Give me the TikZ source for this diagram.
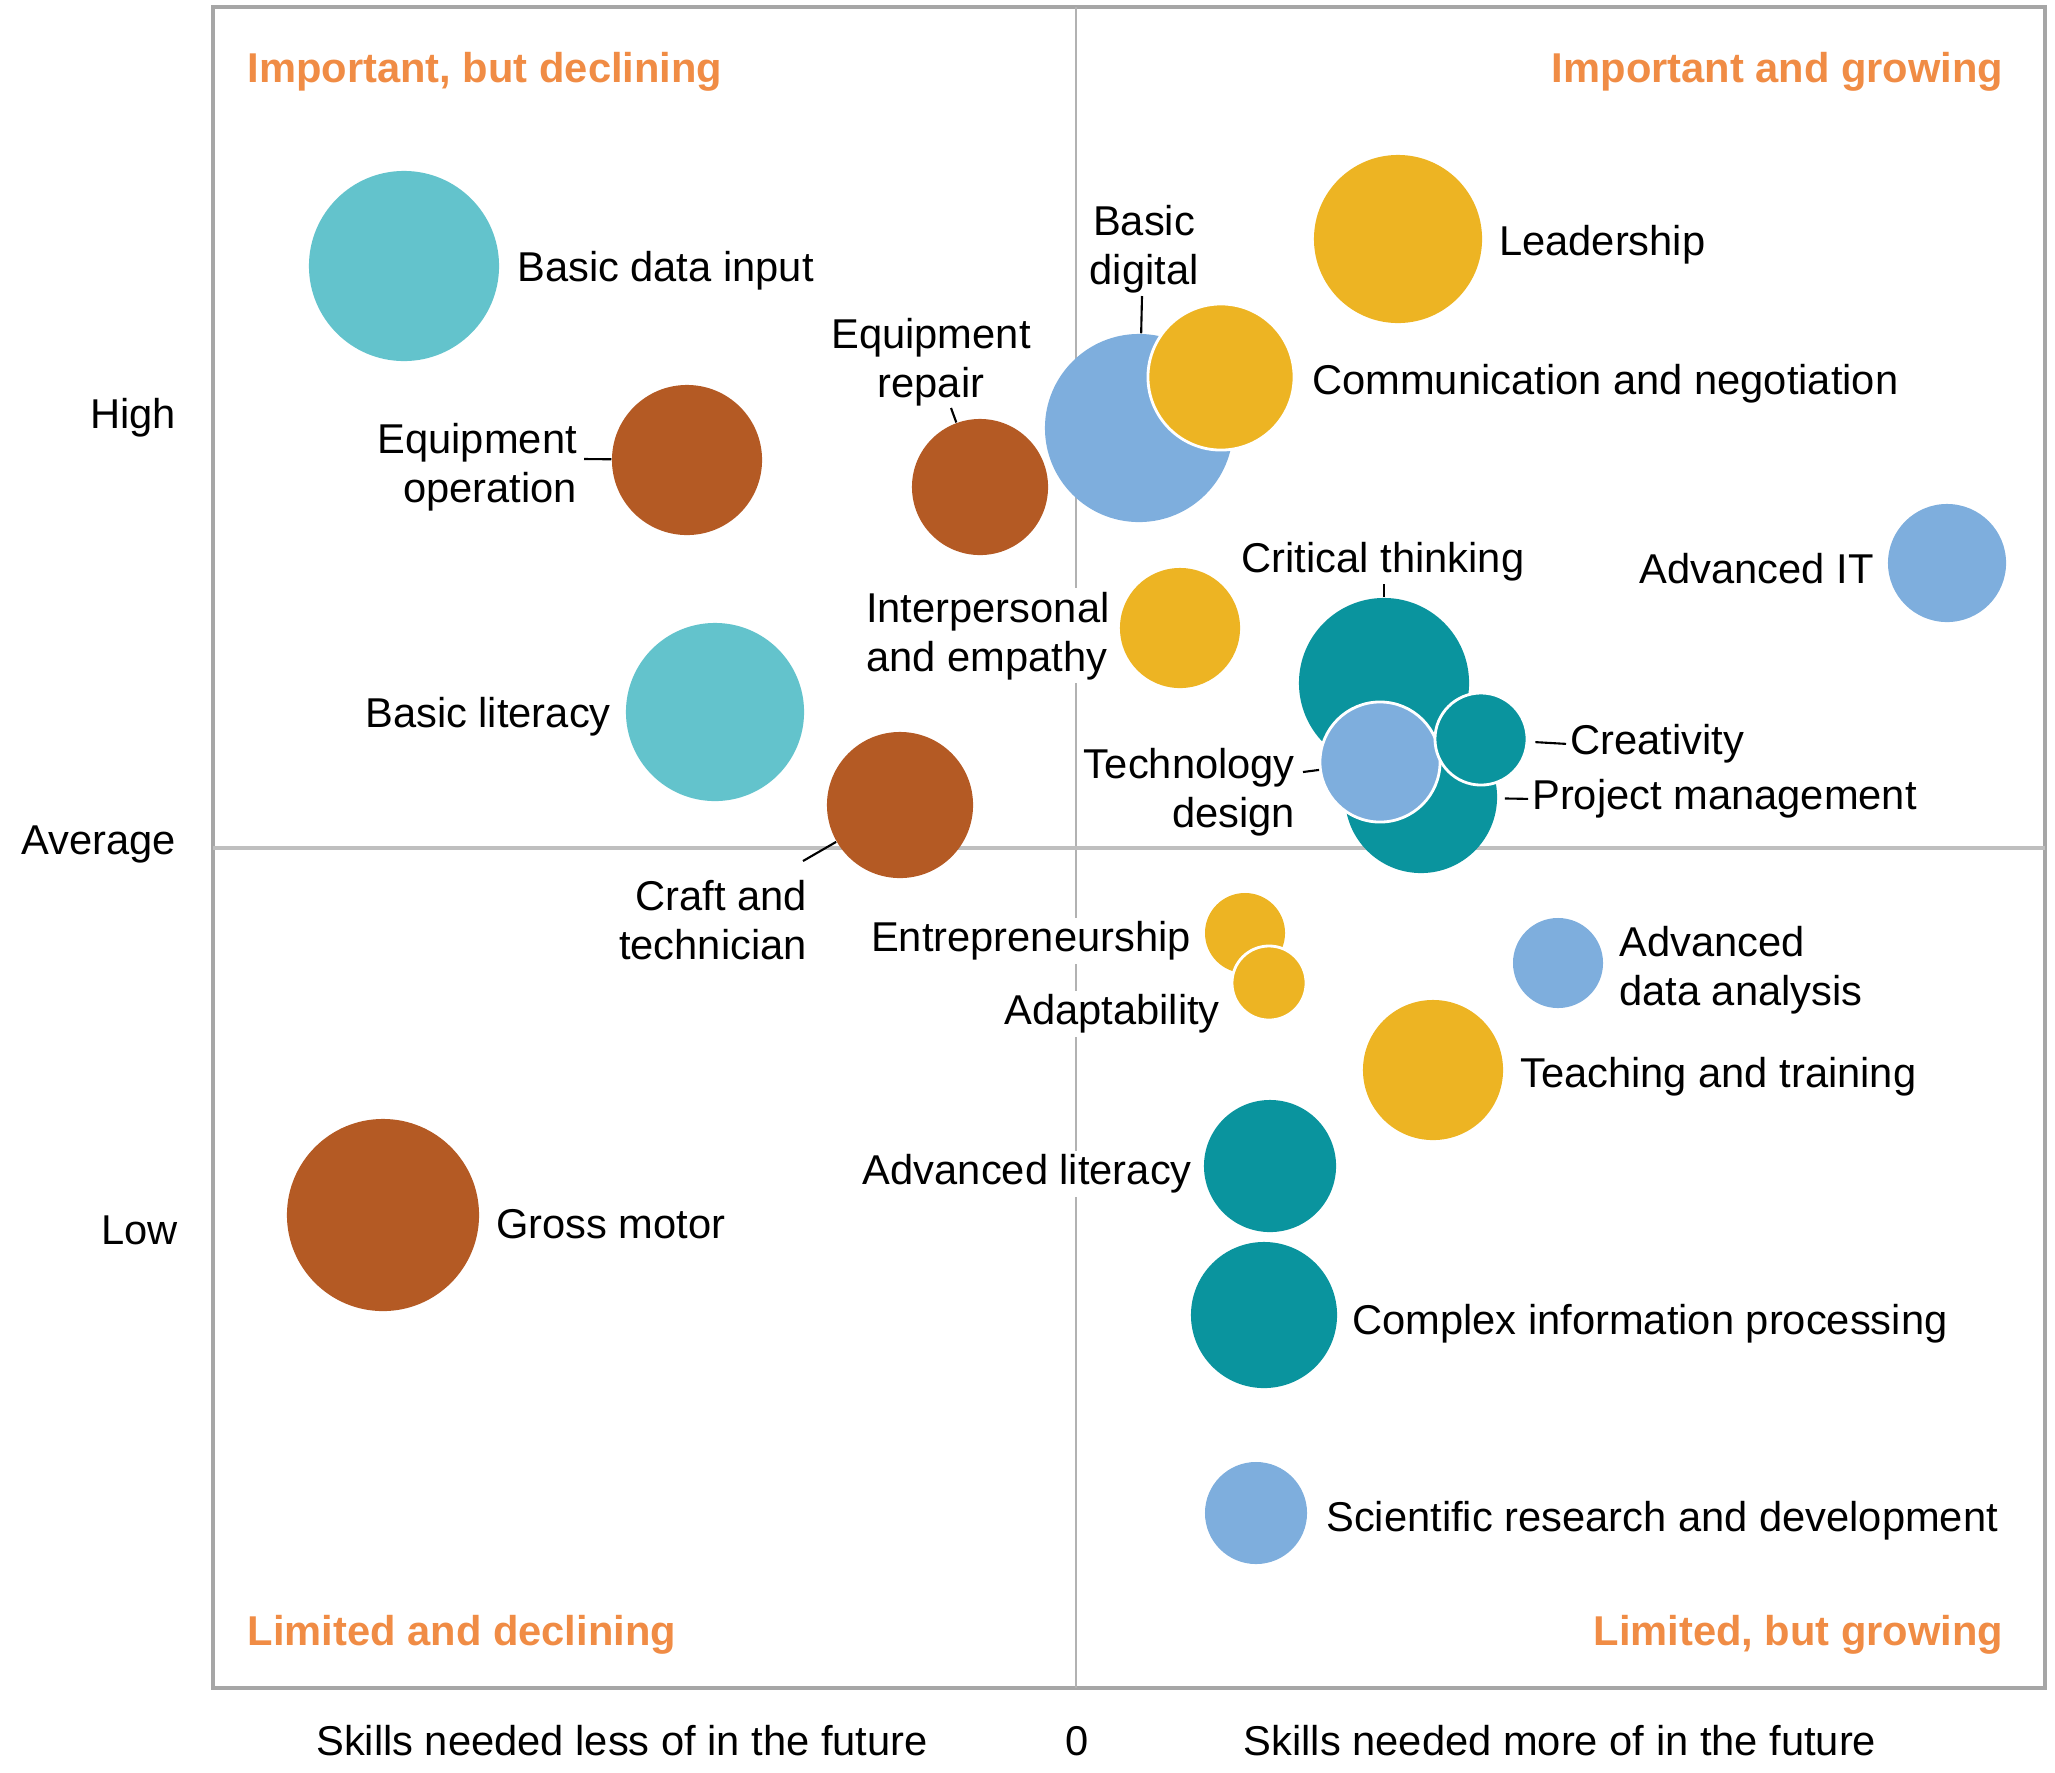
\documentclass[tikz,border=0pt]{standalone}
\usepackage{fontspec}
\setmainfont{Liberation Sans}
\definecolor{lteal}{HTML}{63C3CC}
\definecolor{dteal}{HTML}{0A949E}
\definecolor{rust}{HTML}{B45A24}
\definecolor{sky}{HTML}{7EAEDD}
\definecolor{gold}{HTML}{EDB423}
\definecolor{qorange}{HTML}{F08C45}

\begin{document}
\begin{tikzpicture}[x=0.01cm, y=-0.01cm,
    bub/.style={circle, inner sep=0pt, minimum size=#1*0.02cm},
    ring/.style={draw=white, line width=0.8pt},
    lbl/.style={font=\fontsize{11.85}{14}\selectfont, inner sep=1pt, fill=white, yshift=-1.1pt},
    quad/.style={font=\fontsize{11.85}{14}\selectfont\bfseries, text=qorange, inner sep=0pt, yshift=-1.1pt},
    leader/.style={draw=black, line width=0.6pt}]
    \useasboundingbox (0,0) rectangle (2055,1772);
    \draw[gray!70, line width=1pt] (213,7) rectangle (2045,1688);
    \draw[gray!60, line width=0.8pt] (1076,7) -- (1076,1688);
    \draw[gray!50, line width=1pt] (213,848) -- (2045,848);

    \node[quad, anchor=west] (q1) at (247,68) {Important, but declining};
    \node[quad, anchor=east] (q2) at (2004,68) {Important and growing};
    \node[quad, anchor=west] (q3) at (247,1631) {Limited and declining};
    \node[quad, anchor=east] (q4) at (2004,1631) {Limited, but growing};

    \node[lbl, anchor=east] (high) at (180,414) {High};
    \node[lbl, anchor=east] (avg) at (180,841) {Average};
    \node[lbl, anchor=east] (low) at (182,1226) {Low};
    \node[lbl] (less) at (622,1737) {Skills needed less of in the future};
    \node[lbl] (zero) at (1077,1737) {0};
    \node[lbl] (more) at (1560,1737) {Skills needed more of in the future};

    \node[bub=95, fill=lteal] (bdi) at (404,266) {};
    \node[bub=75, fill=rust] (eqop) at (687,460) {};
    \node[bub=68, fill=rust] (eqrep) at (980,487) {};
    \node[bub=89, fill=lteal] (blit) at (715,712) {};
    \node[bub=73, fill=rust] (craft) at (900,805) {};
    \node[bub=96, fill=rust] (gross) at (383,1215) {};
    \node[bub=94, fill=sky] (bdig) at (1139,428) {};
    \node[bub=73, fill=gold, ring] (comm) at (1221,377) {};
    \node[bub=84, fill=gold] (lead) at (1398,239) {};
    \node[bub=59, fill=sky] (advit) at (1947,563) {};
    \node[bub=60, fill=gold] (inter) at (1180,628) {};
    \node[bub=85, fill=dteal] (crit) at (1384,683) {};
    \node[bub=76, fill=dteal] (proj) at (1421,797) {};
    \node[bub=60, fill=sky, ring] (tech) at (1380,762) {};
    \node[bub=46, fill=dteal, ring] (creat) at (1481,739) {};
    \node[bub=40, fill=gold] (entr) at (1245,933) {};
    \node[bub=37, fill=gold, ring] (adapt) at (1269,983) {};
    \node[bub=45, fill=sky] (adda) at (1558,963) {};
    \node[bub=70, fill=gold] (teach) at (1433,1070) {};
    \node[bub=66, fill=dteal] (advlit) at (1270,1166) {};
    \node[bub=73, fill=dteal] (cip) at (1264,1315) {};
    \node[bub=51, fill=sky] (sci) at (1256,1513) {};

    \node[lbl, anchor=west] (bdilbl) at (513,267) {Basic data input};
    \node[lbl, anchor=east, align=right] (eqoplbl) at (581,463) {Equipment\\operation};
    \node[lbl, align=center] (eqreplbl) at (931,358) {Equipment\\repair};
    \node[lbl, anchor=east] (blitlbl) at (615,713) {Basic literacy};
    \node[lbl, anchor=east, align=right] (craftlbl) at (811,916) {Craft and\\technician};
    \node[lbl, anchor=west] (grosslbl) at (492,1220) {Gross motor};
    \node[lbl, align=center] (bdiglbl) at (1144,245) {Basic\\digital};
    \node[lbl, anchor=west] (commlbl) at (1308,380) {Communication and negotiation};
    \node[lbl, anchor=west] (leadlbl) at (1495,241) {Leadership};
    \node[lbl, anchor=east] (advitlbl) at (1878,565) {Advanced IT};
    \node[lbl, anchor=west, align=left] (interlbl) at (862,632) {Interpersonal\\and empathy};
    \node[lbl] (critlbl) at (1383,558) {Critical thinking};
    \node[lbl, anchor=east, align=right] (techlbl) at (1299,788) {Technology\\design};
    \node[lbl, anchor=west] (creatlbl) at (1566,740) {Creativity};
    \node[lbl, anchor=west] (projlbl) at (1528,795) {Project management};
    \node[lbl, anchor=east] (entrlbl) at (1195,937) {Entrepreneurship};
    \node[lbl, anchor=east] (adaptlbl) at (1224,1010) {Adaptability};
    \node[lbl, anchor=west, align=left] (addalbl) at (1615,966) {Advanced\\data analysis};
    \node[lbl, anchor=west] (teachlbl) at (1516,1073) {Teaching and training};
    \node[lbl, anchor=east] (advlitlbl) at (1196,1170) {Advanced literacy};
    \node[lbl, anchor=west] (ciplbl) at (1348,1320) {Complex information processing};
    \node[lbl, anchor=west] (scilbl) at (1322,1517) {Scientific research and development};

    \coordinate (eqopA) at (584,459);
    \coordinate (eqrepA) at (951,408);
    \coordinate (craftA) at (803,861);
    \coordinate (bdigA) at (1142,296);
    \coordinate (critA) at (1384,584);
    \coordinate (techA) at (1303,772);
    \draw[leader] (eqopA) -- (eqop);
    \draw[leader] (eqrepA) -- (eqrep);
    \draw[leader] (craftA) -- (craft);
    \draw[leader] (bdigA) -- (bdig);
    \draw[leader] (critA) -- (crit);
    \draw[leader] (techA) -- (tech);
    \draw[leader, shorten >=2pt] (creatlbl.west) -- (creat);
    \draw[leader, shorten >=2pt] (projlbl.west) -- (proj);
\end{tikzpicture}
\end{document}
